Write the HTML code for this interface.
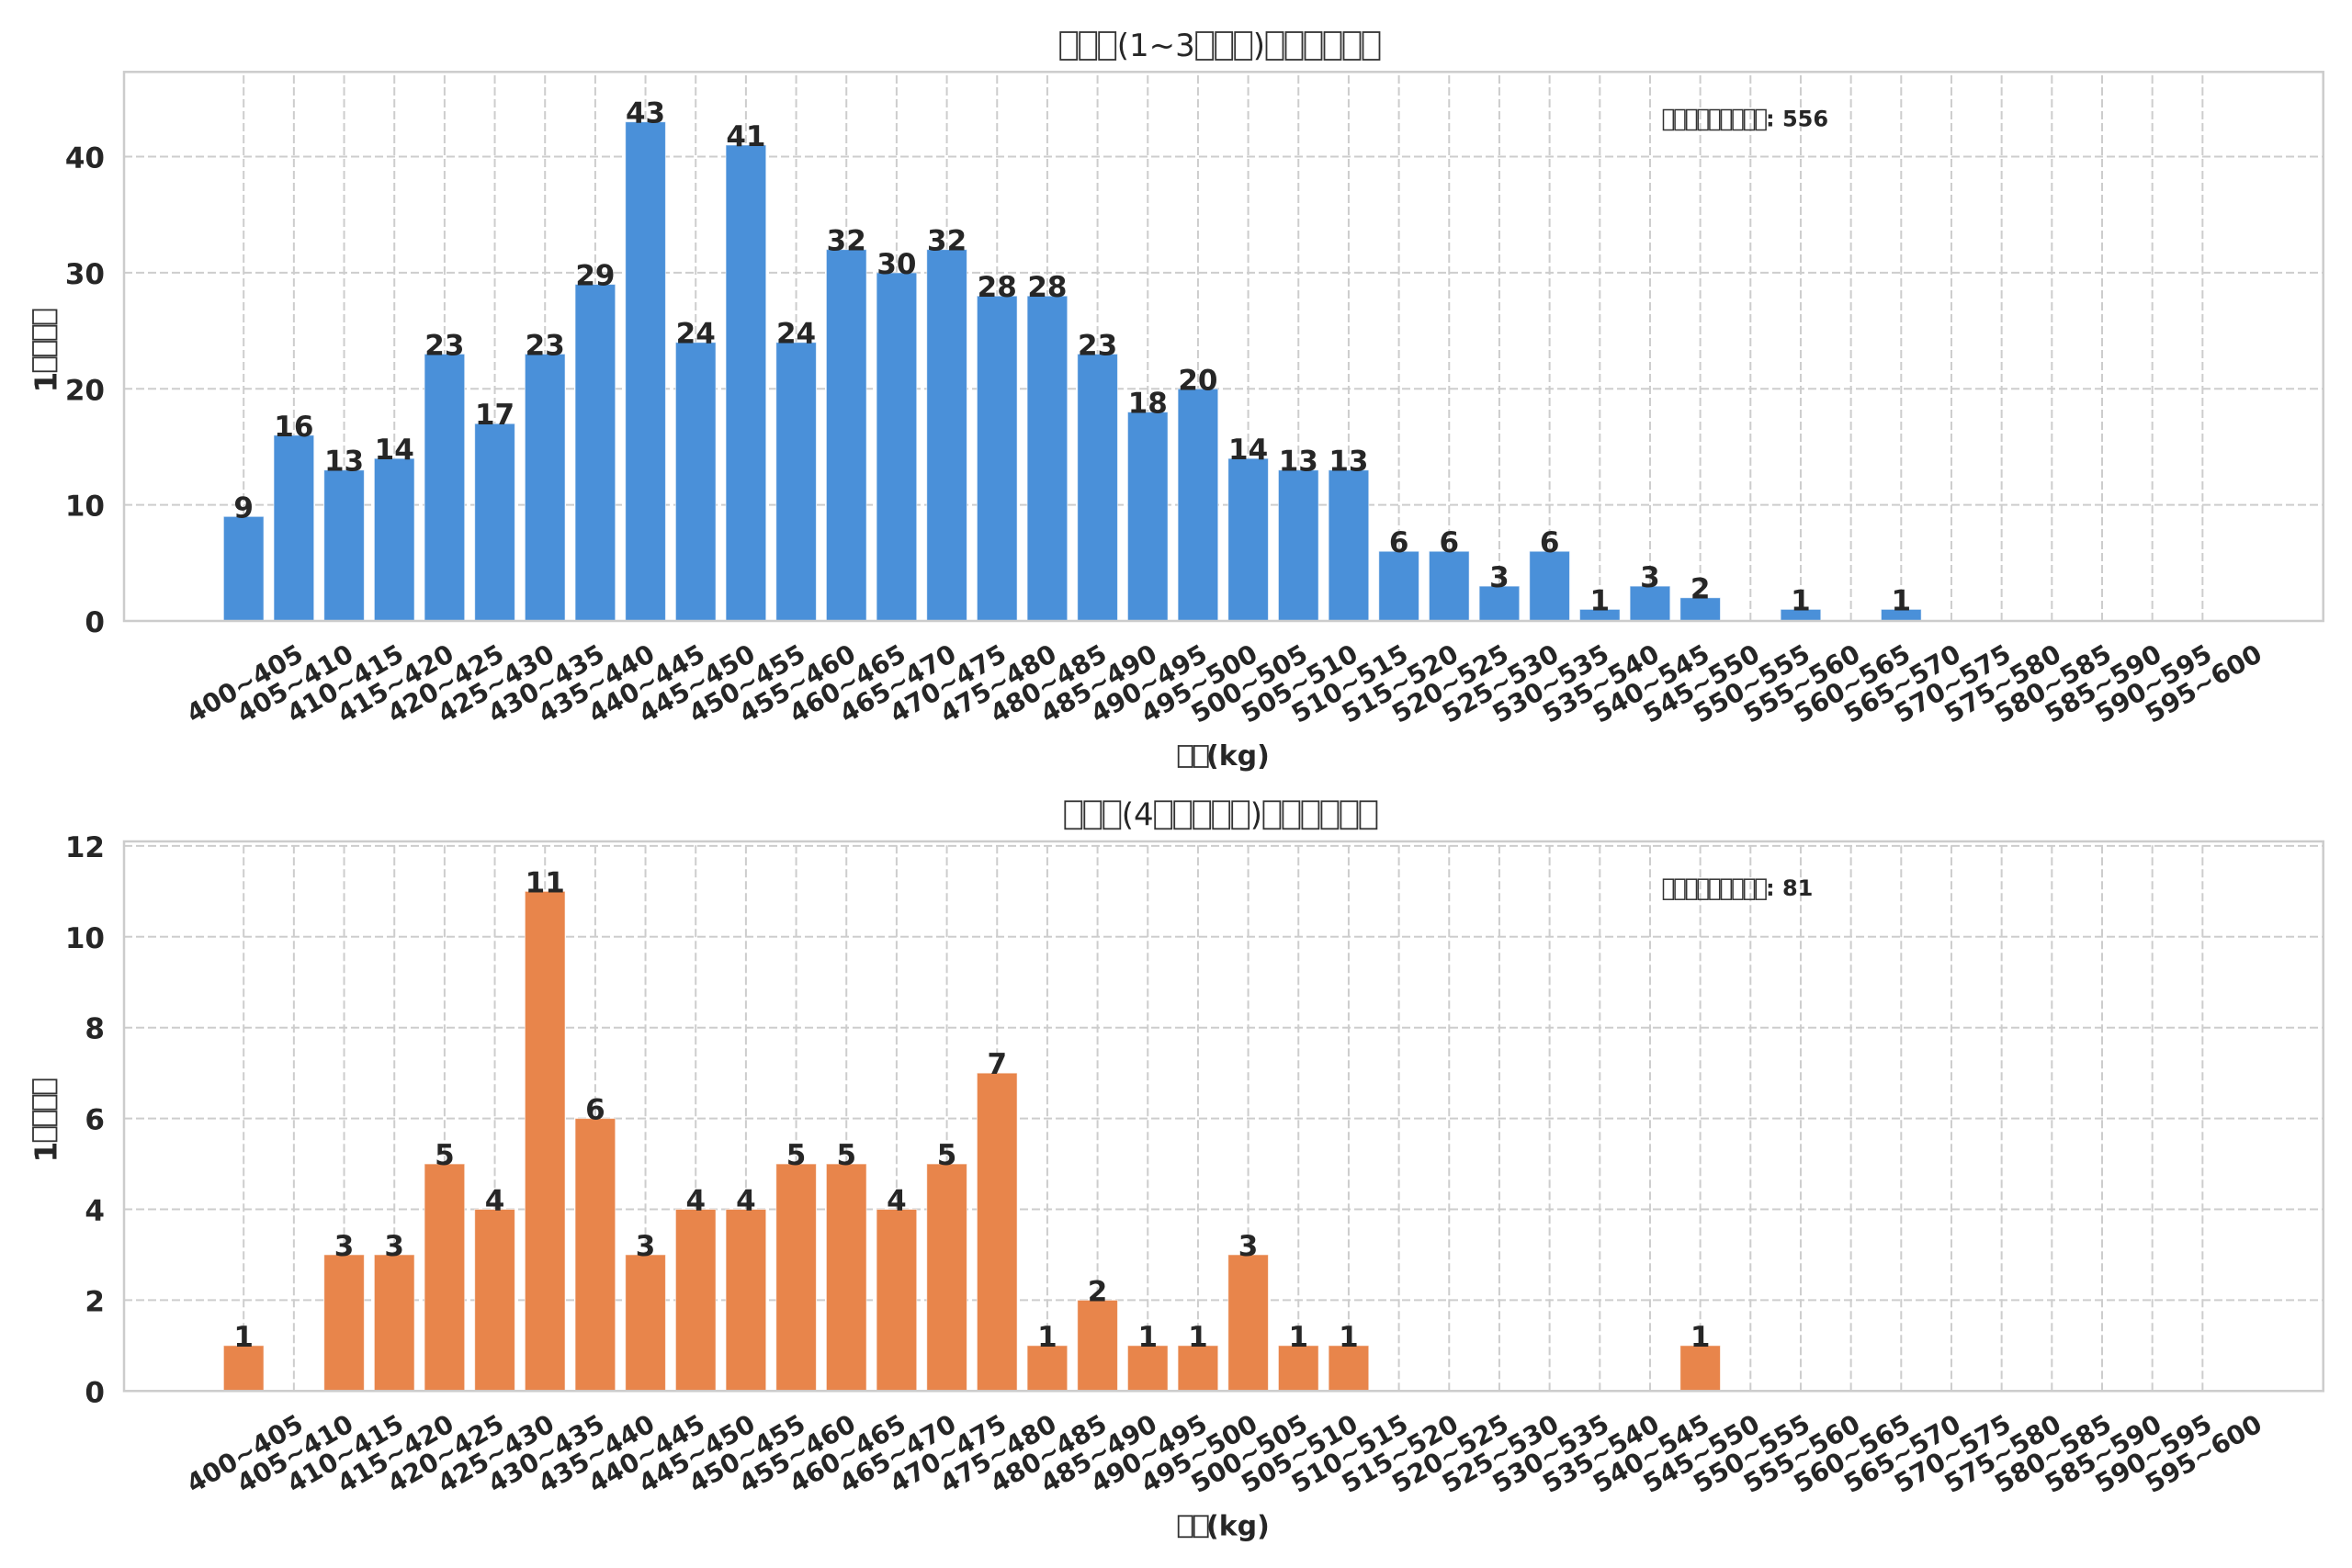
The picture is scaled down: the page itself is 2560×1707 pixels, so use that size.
<!DOCTYPE html>
<html><head><meta charset="utf-8"><style>
html,body{margin:0;padding:0;background:#fff;}
svg{display:block;}
.t{font-family:"DejaVu Sans","Liberation Sans",sans-serif;fill:#262626;}
.b{font-weight:bold;}
.tick{font-size:31px;font-weight:bold;}
.xt{font-size:28px;font-weight:bold;text-anchor:middle;}
.val{font-size:31px;font-weight:bold;text-anchor:middle;}
.tofu{fill:none;stroke:#333;stroke-width:1.8;}
</style></head><body>
<svg width="2560" height="1707" viewBox="0 0 2560 1707" xmlns="http://www.w3.org/2000/svg">
<rect width="2560" height="1707" fill="#fff"/>

<!-- ============ TOP CHART ============ -->
<g stroke="#cdcdcd" stroke-width="2" stroke-dasharray="9 4" fill="none">
<path d="M135 170.56H2528.7M135 296.92H2528.7M135 423.28H2528.7M135 549.64H2528.7"/>
<path d="M265.2 676V78.3M319.87 676V78.3M374.54 676V78.3M429.21 676V78.3M483.88 676V78.3M538.55 676V78.3M593.22 676V78.3M647.89 676V78.3M702.56 676V78.3M757.23 676V78.3M811.9 676V78.3M866.57 676V78.3M921.24 676V78.3M975.91 676V78.3M1030.58 676V78.3M1085.25 676V78.3M1139.92 676V78.3M1194.59 676V78.3M1249.26 676V78.3M1303.93 676V78.3M1358.6 676V78.3M1413.27 676V78.3M1467.94 676V78.3M1522.61 676V78.3M1577.28 676V78.3M1631.95 676V78.3M1686.62 676V78.3M1741.29 676V78.3M1795.96 676V78.3M1850.63 676V78.3M1905.3 676V78.3M1959.97 676V78.3M2014.64 676V78.3M2069.31 676V78.3M2123.98 676V78.3M2178.65 676V78.3M2233.32 676V78.3M2287.99 676V78.3M2342.66 676V78.3M2397.33 676V78.3"/>
</g>
<g fill="#4A90D9" stroke="#ffffff" stroke-width="1" stroke-opacity="0.6">
<rect x="243.35" y="562.28" width="43.7" height="113.72"/>
<rect x="298.02" y="473.82" width="43.7" height="202.18"/>
<rect x="352.69" y="511.73" width="43.7" height="164.27"/>
<rect x="407.36" y="499.10" width="43.7" height="176.90"/>
<rect x="462.03" y="385.37" width="43.7" height="290.63"/>
<rect x="516.70" y="461.19" width="43.7" height="214.81"/>
<rect x="571.37" y="385.37" width="43.7" height="290.63"/>
<rect x="626.04" y="309.56" width="43.7" height="366.44"/>
<rect x="680.71" y="132.65" width="43.7" height="543.35"/>
<rect x="735.38" y="372.74" width="43.7" height="303.26"/>
<rect x="790.05" y="157.92" width="43.7" height="518.08"/>
<rect x="844.72" y="372.74" width="43.7" height="303.26"/>
<rect x="899.39" y="271.65" width="43.7" height="404.35"/>
<rect x="954.06" y="296.92" width="43.7" height="379.08"/>
<rect x="1008.73" y="271.65" width="43.7" height="404.35"/>
<rect x="1063.40" y="322.19" width="43.7" height="353.81"/>
<rect x="1118.07" y="322.19" width="43.7" height="353.81"/>
<rect x="1172.74" y="385.37" width="43.7" height="290.63"/>
<rect x="1227.41" y="448.55" width="43.7" height="227.45"/>
<rect x="1282.08" y="423.28" width="43.7" height="252.72"/>
<rect x="1336.75" y="499.10" width="43.7" height="176.90"/>
<rect x="1391.42" y="511.73" width="43.7" height="164.27"/>
<rect x="1446.09" y="511.73" width="43.7" height="164.27"/>
<rect x="1500.76" y="600.18" width="43.7" height="75.82"/>
<rect x="1555.43" y="600.18" width="43.7" height="75.82"/>
<rect x="1610.10" y="638.09" width="43.7" height="37.91"/>
<rect x="1664.77" y="600.18" width="43.7" height="75.82"/>
<rect x="1719.44" y="663.36" width="43.7" height="12.64"/>
<rect x="1774.11" y="638.09" width="43.7" height="37.91"/>
<rect x="1828.78" y="650.73" width="43.7" height="25.27"/>
<rect x="1938.12" y="663.36" width="43.7" height="12.64"/>
<rect x="2047.46" y="663.36" width="43.7" height="12.64"/>
</g>
<rect x="135" y="78.3" width="2393.7" height="597.7" fill="none" stroke="#cccccc" stroke-width="2.5"/>

<g class="t val">
<text x="265.2" y="563.3">9</text>
<text x="319.87" y="474.8">16</text>
<text x="374.54" y="512.7">13</text>
<text x="429.21" y="500.1">14</text>
<text x="483.88" y="386.4">23</text>
<text x="538.55" y="462.2">17</text>
<text x="593.22" y="386.4">23</text>
<text x="647.89" y="310.6">29</text>
<text x="702.56" y="133.7">43</text>
<text x="757.23" y="373.7">24</text>
<text x="811.9" y="158.9">41</text>
<text x="866.57" y="373.7">24</text>
<text x="921.24" y="272.7">32</text>
<text x="975.91" y="297.9">30</text>
<text x="1030.58" y="272.7">32</text>
<text x="1085.25" y="323.2">28</text>
<text x="1139.92" y="323.2">28</text>
<text x="1194.59" y="386.4">23</text>
<text x="1249.26" y="449.6">18</text>
<text x="1303.93" y="424.3">20</text>
<text x="1358.6" y="500.1">14</text>
<text x="1413.27" y="512.7">13</text>
<text x="1467.94" y="512.7">13</text>
<text x="1522.61" y="601.2">6</text>
<text x="1577.28" y="601.2">6</text>
<text x="1631.95" y="639.1">3</text>
<text x="1686.62" y="601.2">6</text>
<text x="1741.29" y="664.4">1</text>
<text x="1795.96" y="639.1">3</text>
<text x="1850.63" y="651.7">2</text>
<text x="1959.97" y="664.4">1</text>
<text x="2069.31" y="664.4">1</text>
</g>

<g class="t tick" text-anchor="end">
<text x="114" y="688">0</text>
<text x="114" y="561.6">10</text>
<text x="114" y="435.3">20</text>
<text x="114" y="308.9">30</text>
<text x="114" y="182.6">40</text>
</g>

<g class="t xt">
<text transform="translate(266.2 744) rotate(-30)" y="10">400~405</text>
<text transform="translate(320.87 744) rotate(-30)" y="10">405~410</text>
<text transform="translate(375.54 744) rotate(-30)" y="10">410~415</text>
<text transform="translate(430.21 744) rotate(-30)" y="10">415~420</text>
<text transform="translate(484.88 744) rotate(-30)" y="10">420~425</text>
<text transform="translate(539.55 744) rotate(-30)" y="10">425~430</text>
<text transform="translate(594.22 744) rotate(-30)" y="10">430~435</text>
<text transform="translate(648.89 744) rotate(-30)" y="10">435~440</text>
<text transform="translate(703.56 744) rotate(-30)" y="10">440~445</text>
<text transform="translate(758.23 744) rotate(-30)" y="10">445~450</text>
<text transform="translate(812.9 744) rotate(-30)" y="10">450~455</text>
<text transform="translate(867.57 744) rotate(-30)" y="10">455~460</text>
<text transform="translate(922.24 744) rotate(-30)" y="10">460~465</text>
<text transform="translate(976.91 744) rotate(-30)" y="10">465~470</text>
<text transform="translate(1031.58 744) rotate(-30)" y="10">470~475</text>
<text transform="translate(1086.25 744) rotate(-30)" y="10">475~480</text>
<text transform="translate(1140.92 744) rotate(-30)" y="10">480~485</text>
<text transform="translate(1195.59 744) rotate(-30)" y="10">485~490</text>
<text transform="translate(1250.26 744) rotate(-30)" y="10">490~495</text>
<text transform="translate(1304.93 744) rotate(-30)" y="10">495~500</text>
<text transform="translate(1359.6 744) rotate(-30)" y="10">500~505</text>
<text transform="translate(1414.27 744) rotate(-30)" y="10">505~510</text>
<text transform="translate(1468.94 744) rotate(-30)" y="10">510~515</text>
<text transform="translate(1523.61 744) rotate(-30)" y="10">515~520</text>
<text transform="translate(1578.28 744) rotate(-30)" y="10">520~525</text>
<text transform="translate(1632.95 744) rotate(-30)" y="10">525~530</text>
<text transform="translate(1687.62 744) rotate(-30)" y="10">530~535</text>
<text transform="translate(1742.29 744) rotate(-30)" y="10">535~540</text>
<text transform="translate(1796.96 744) rotate(-30)" y="10">540~545</text>
<text transform="translate(1851.63 744) rotate(-30)" y="10">545~550</text>
<text transform="translate(1906.3 744) rotate(-30)" y="10">550~555</text>
<text transform="translate(1960.97 744) rotate(-30)" y="10">555~560</text>
<text transform="translate(2015.64 744) rotate(-30)" y="10">560~565</text>
<text transform="translate(2070.31 744) rotate(-30)" y="10">565~570</text>
<text transform="translate(2124.98 744) rotate(-30)" y="10">570~575</text>
<text transform="translate(2179.65 744) rotate(-30)" y="10">575~580</text>
<text transform="translate(2234.32 744) rotate(-30)" y="10">580~585</text>
<text transform="translate(2288.99 744) rotate(-30)" y="10">585~590</text>
<text transform="translate(2343.66 744) rotate(-30)" y="10">590~595</text>
<text transform="translate(2398.33 744) rotate(-30)" y="10">595~600</text>
</g>

<!-- top title -->
<g class="tofu">
<rect x="1154.2" y="35" width="18" height="30"/>
<rect x="1175.2" y="35" width="18" height="30"/>
<rect x="1196.2" y="35" width="18" height="30"/>
<rect x="1302.2" y="35" width="18" height="30"/>
<rect x="1323.2" y="35" width="18" height="30"/>
<rect x="1344.2" y="35" width="18" height="30"/>
<rect x="1378.5" y="35" width="18" height="30"/>
<rect x="1399.5" y="35" width="18" height="30"/>
<rect x="1420.5" y="35" width="18" height="30"/>
<rect x="1441.5" y="35" width="18" height="30"/>
<rect x="1462.5" y="35" width="18" height="30"/>
<rect x="1483.5" y="35" width="18" height="30"/>
</g>
<text class="t" x="1215.7" y="61" font-size="34">(1~3</text>
<text class="t" x="1363.7" y="61" font-size="34">)</text>

<!-- top annotation -->
<g class="tofu" style="stroke-width:1.5">
<rect x="1810.5" y="119.5" width="10.8" height="22"/>
<rect x="1823.1" y="119.5" width="10.8" height="22"/>
<rect x="1835.7" y="119.5" width="10.8" height="22"/>
<rect x="1848.3" y="119.5" width="10.8" height="22"/>
<rect x="1860.9" y="119.5" width="10.8" height="22"/>
<rect x="1873.5" y="119.5" width="10.8" height="22"/>
<rect x="1886.1" y="119.5" width="10.8" height="22"/>
<rect x="1898.7" y="119.5" width="10.8" height="22"/>
<rect x="1911.3" y="119.5" width="10.8" height="22"/>
</g>
<text class="t b" x="1922" y="137.3" font-size="24">: 556</text>

<!-- top ylabel -->
<g transform="translate(49 377) rotate(-90)">
<text class="t b" x="-50.6" y="12.5" font-size="33">1</text>
<g class="tofu">
<rect x="-27.3" y="-13" width="15" height="25.5"/>
<rect x="-10" y="-13" width="15" height="25.5"/>
<rect x="7.3" y="-13" width="15" height="25.5"/>
<rect x="24.6" y="-13" width="15" height="25.5"/>
</g>
</g>

<!-- top xlabel -->
<g class="tofu">
<rect x="1282.7" y="812" width="15" height="23"/>
<rect x="1299.7" y="812" width="15" height="23"/>
</g>
<text class="t b" x="1313" y="833" font-size="30">(kg)</text>

<!-- ============ BOTTOM CHART ============ -->
<g stroke="#cdcdcd" stroke-width="2" stroke-dasharray="9 4" fill="none">
<path d="M135 920.9H2528.7M135 1019.8H2528.7M135 1118.7H2528.7M135 1217.6H2528.7M135 1316.5H2528.7M135 1415.4H2528.7"/>
<path d="M265.2 1514.3V916M319.87 1514.3V916M374.54 1514.3V916M429.21 1514.3V916M483.88 1514.3V916M538.55 1514.3V916M593.22 1514.3V916M647.89 1514.3V916M702.56 1514.3V916M757.23 1514.3V916M811.9 1514.3V916M866.57 1514.3V916M921.24 1514.3V916M975.91 1514.3V916M1030.58 1514.3V916M1085.25 1514.3V916M1139.92 1514.3V916M1194.59 1514.3V916M1249.26 1514.3V916M1303.93 1514.3V916M1358.6 1514.3V916M1413.27 1514.3V916M1467.94 1514.3V916M1522.61 1514.3V916M1577.28 1514.3V916M1631.95 1514.3V916M1686.62 1514.3V916M1741.29 1514.3V916M1795.96 1514.3V916M1850.63 1514.3V916M1905.3 1514.3V916M1959.97 1514.3V916M2014.64 1514.3V916M2069.31 1514.3V916M2123.98 1514.3V916M2178.65 1514.3V916M2233.32 1514.3V916M2287.99 1514.3V916M2342.66 1514.3V916M2397.33 1514.3V916"/>
</g>
<g fill="#E8854B" stroke="#ffffff" stroke-width="1" stroke-opacity="0.6">
<rect x="243.35" y="1464.85" width="43.7" height="49.45"/>
<rect x="352.69" y="1365.95" width="43.7" height="148.35"/>
<rect x="407.36" y="1365.95" width="43.7" height="148.35"/>
<rect x="462.03" y="1267.05" width="43.7" height="247.25"/>
<rect x="516.70" y="1316.50" width="43.7" height="197.80"/>
<rect x="571.37" y="970.35" width="43.7" height="543.95"/>
<rect x="626.04" y="1217.60" width="43.7" height="296.70"/>
<rect x="680.71" y="1365.95" width="43.7" height="148.35"/>
<rect x="735.38" y="1316.50" width="43.7" height="197.80"/>
<rect x="790.05" y="1316.50" width="43.7" height="197.80"/>
<rect x="844.72" y="1267.05" width="43.7" height="247.25"/>
<rect x="899.39" y="1267.05" width="43.7" height="247.25"/>
<rect x="954.06" y="1316.50" width="43.7" height="197.80"/>
<rect x="1008.73" y="1267.05" width="43.7" height="247.25"/>
<rect x="1063.40" y="1168.15" width="43.7" height="346.15"/>
<rect x="1118.07" y="1464.85" width="43.7" height="49.45"/>
<rect x="1172.74" y="1415.40" width="43.7" height="98.90"/>
<rect x="1227.41" y="1464.85" width="43.7" height="49.45"/>
<rect x="1282.08" y="1464.85" width="43.7" height="49.45"/>
<rect x="1336.75" y="1365.95" width="43.7" height="148.35"/>
<rect x="1391.42" y="1464.85" width="43.7" height="49.45"/>
<rect x="1446.09" y="1464.85" width="43.7" height="49.45"/>
<rect x="1828.78" y="1464.85" width="43.7" height="49.45"/>
</g>
<rect x="135" y="916" width="2393.7" height="598.3" fill="none" stroke="#cccccc" stroke-width="2.5"/>

<g class="t val">
<text x="265.2" y="1465.9">1</text>
<text x="374.54" y="1367">3</text>
<text x="429.21" y="1367">3</text>
<text x="483.88" y="1268.1">5</text>
<text x="538.55" y="1317.5">4</text>
<text x="593.22" y="971.4">11</text>
<text x="647.89" y="1218.6">6</text>
<text x="702.56" y="1367">3</text>
<text x="757.23" y="1317.5">4</text>
<text x="811.9" y="1317.5">4</text>
<text x="866.57" y="1268.1">5</text>
<text x="921.24" y="1268.1">5</text>
<text x="975.91" y="1317.5">4</text>
<text x="1030.58" y="1268.1">5</text>
<text x="1085.25" y="1169.2">7</text>
<text x="1139.92" y="1465.9">1</text>
<text x="1194.59" y="1416.4">2</text>
<text x="1249.26" y="1465.9">1</text>
<text x="1303.93" y="1465.9">1</text>
<text x="1358.6" y="1367">3</text>
<text x="1413.27" y="1465.9">1</text>
<text x="1467.94" y="1465.9">1</text>
<text x="1850.63" y="1465.9">1</text>
</g>

<g class="t tick" text-anchor="end">
<text x="114" y="1526.3">0</text>
<text x="114" y="1427.4">2</text>
<text x="114" y="1328.5">4</text>
<text x="114" y="1229.6">6</text>
<text x="114" y="1130.7">8</text>
<text x="114" y="1031.8">10</text>
<text x="114" y="932.9">12</text>
</g>

<g class="t xt">
<text transform="translate(266.2 1582.3) rotate(-30)" y="10">400~405</text>
<text transform="translate(320.87 1582.3) rotate(-30)" y="10">405~410</text>
<text transform="translate(375.54 1582.3) rotate(-30)" y="10">410~415</text>
<text transform="translate(430.21 1582.3) rotate(-30)" y="10">415~420</text>
<text transform="translate(484.88 1582.3) rotate(-30)" y="10">420~425</text>
<text transform="translate(539.55 1582.3) rotate(-30)" y="10">425~430</text>
<text transform="translate(594.22 1582.3) rotate(-30)" y="10">430~435</text>
<text transform="translate(648.89 1582.3) rotate(-30)" y="10">435~440</text>
<text transform="translate(703.56 1582.3) rotate(-30)" y="10">440~445</text>
<text transform="translate(758.23 1582.3) rotate(-30)" y="10">445~450</text>
<text transform="translate(812.9 1582.3) rotate(-30)" y="10">450~455</text>
<text transform="translate(867.57 1582.3) rotate(-30)" y="10">455~460</text>
<text transform="translate(922.24 1582.3) rotate(-30)" y="10">460~465</text>
<text transform="translate(976.91 1582.3) rotate(-30)" y="10">465~470</text>
<text transform="translate(1031.58 1582.3) rotate(-30)" y="10">470~475</text>
<text transform="translate(1086.25 1582.3) rotate(-30)" y="10">475~480</text>
<text transform="translate(1140.92 1582.3) rotate(-30)" y="10">480~485</text>
<text transform="translate(1195.59 1582.3) rotate(-30)" y="10">485~490</text>
<text transform="translate(1250.26 1582.3) rotate(-30)" y="10">490~495</text>
<text transform="translate(1304.93 1582.3) rotate(-30)" y="10">495~500</text>
<text transform="translate(1359.6 1582.3) rotate(-30)" y="10">500~505</text>
<text transform="translate(1414.27 1582.3) rotate(-30)" y="10">505~510</text>
<text transform="translate(1468.94 1582.3) rotate(-30)" y="10">510~515</text>
<text transform="translate(1523.61 1582.3) rotate(-30)" y="10">515~520</text>
<text transform="translate(1578.28 1582.3) rotate(-30)" y="10">520~525</text>
<text transform="translate(1632.95 1582.3) rotate(-30)" y="10">525~530</text>
<text transform="translate(1687.62 1582.3) rotate(-30)" y="10">530~535</text>
<text transform="translate(1742.29 1582.3) rotate(-30)" y="10">535~540</text>
<text transform="translate(1796.96 1582.3) rotate(-30)" y="10">540~545</text>
<text transform="translate(1851.63 1582.3) rotate(-30)" y="10">545~550</text>
<text transform="translate(1906.3 1582.3) rotate(-30)" y="10">550~555</text>
<text transform="translate(1960.97 1582.3) rotate(-30)" y="10">555~560</text>
<text transform="translate(2015.64 1582.3) rotate(-30)" y="10">560~565</text>
<text transform="translate(2070.31 1582.3) rotate(-30)" y="10">565~570</text>
<text transform="translate(2124.98 1582.3) rotate(-30)" y="10">570~575</text>
<text transform="translate(2179.65 1582.3) rotate(-30)" y="10">575~580</text>
<text transform="translate(2234.32 1582.3) rotate(-30)" y="10">580~585</text>
<text transform="translate(2288.99 1582.3) rotate(-30)" y="10">585~590</text>
<text transform="translate(2343.66 1582.3) rotate(-30)" y="10">590~595</text>
<text transform="translate(2398.33 1582.3) rotate(-30)" y="10">595~600</text>
</g>

<!-- bottom title -->
<g class="tofu">
<rect x="1159.3" y="872.3" width="18" height="30"/>
<rect x="1180.3" y="872.3" width="18" height="30"/>
<rect x="1201.3" y="872.3" width="18" height="30"/>
<rect x="1257.2" y="872.3" width="18" height="30"/>
<rect x="1278.2" y="872.3" width="18" height="30"/>
<rect x="1299.2" y="872.3" width="18" height="30"/>
<rect x="1320.2" y="872.3" width="18" height="30"/>
<rect x="1341.2" y="872.3" width="18" height="30"/>
<rect x="1375.4" y="872.3" width="18" height="30"/>
<rect x="1396.4" y="872.3" width="18" height="30"/>
<rect x="1417.4" y="872.3" width="18" height="30"/>
<rect x="1438.4" y="872.3" width="18" height="30"/>
<rect x="1459.4" y="872.3" width="18" height="30"/>
<rect x="1480.4" y="872.3" width="18" height="30"/>
</g>
<text class="t" x="1220.8" y="898.3" font-size="34">(4</text>
<text class="t" x="1360.7" y="898.3" font-size="34">)</text>

<!-- bottom annotation -->
<g class="tofu" style="stroke-width:1.5">
<rect x="1810.5" y="957.2" width="10.8" height="22"/>
<rect x="1823.1" y="957.2" width="10.8" height="22"/>
<rect x="1835.7" y="957.2" width="10.8" height="22"/>
<rect x="1848.3" y="957.2" width="10.8" height="22"/>
<rect x="1860.9" y="957.2" width="10.8" height="22"/>
<rect x="1873.5" y="957.2" width="10.8" height="22"/>
<rect x="1886.1" y="957.2" width="10.8" height="22"/>
<rect x="1898.7" y="957.2" width="10.8" height="22"/>
<rect x="1911.3" y="957.2" width="10.8" height="22"/>
</g>
<text class="t b" x="1922" y="975" font-size="24">: 81</text>

<!-- bottom ylabel -->
<g transform="translate(49 1215) rotate(-90)">
<text class="t b" x="-50.6" y="12.5" font-size="33">1</text>
<g class="tofu">
<rect x="-27.3" y="-13" width="15" height="25.5"/>
<rect x="-10" y="-13" width="15" height="25.5"/>
<rect x="7.3" y="-13" width="15" height="25.5"/>
<rect x="24.6" y="-13" width="15" height="25.5"/>
</g>
</g>

<!-- bottom xlabel -->
<g class="tofu">
<rect x="1282.7" y="1650.3" width="15" height="23"/>
<rect x="1299.7" y="1650.3" width="15" height="23"/>
</g>
<text class="t b" x="1313" y="1671.3" font-size="30">(kg)</text>
</svg>
</body></html>
